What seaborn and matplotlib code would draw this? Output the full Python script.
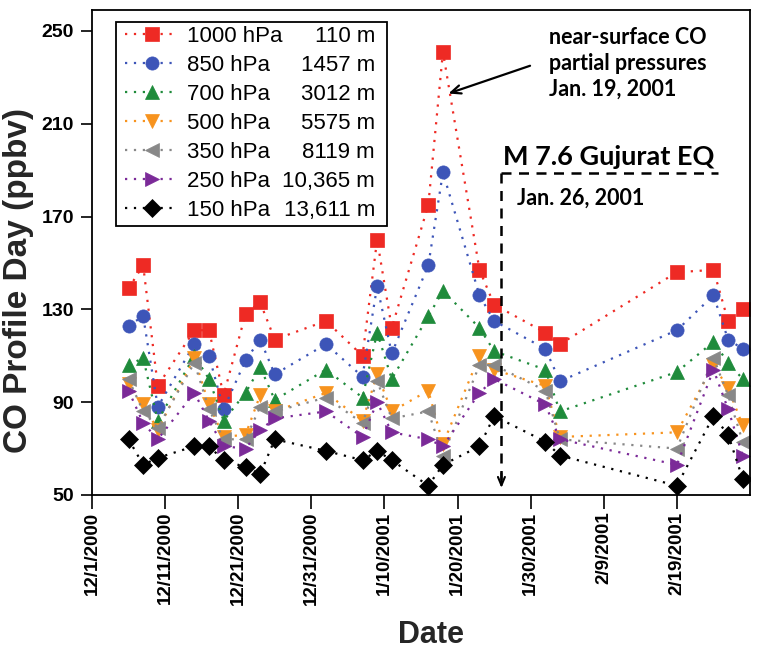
import matplotlib
matplotlib.use("Agg")
import matplotlib.pyplot as plt
import matplotlib.dates as mdates
from matplotlib.patches import Rectangle
import seaborn as sns
import pandas as pd

# sampling days (profiles)
dates = ["2000-12-06", "2000-12-08", "2000-12-10", "2000-12-15", "2000-12-17",
         "2000-12-19", "2000-12-22", "2000-12-24", "2000-12-26", "2001-01-02",
         "2001-01-07", "2001-01-09", "2001-01-11", "2001-01-16", "2001-01-18",
         "2001-01-23", "2001-01-25", "2001-02-01", "2001-02-03", "2001-02-19",
         "2001-02-24", "2001-02-26", "2001-02-28"]

co_1000 = [139, 149, 97, 121, 121, 93, 128, 133, 117, 125, 110, 160, 122, 175, 241, 147, 132, 120, 115, 146, 147, 125, 130]
co_850 = [123, 127, 88, 115, 110, 87, 108, 117, 102, 115, 101, 140, 111, 149, 189, 136, 125, 113, 99, 121, 136, 117, 113]
co_700 = [106, 109, 82, 110, 100, 82, 94, 105, 91, 104, 92, 120, 100, 127, 138, 122, 112, 104, 86, 103, 116, 107, 100]
co_500 = [98, 89, 78, 109, 89, 75, 76, 93, 86, 94, 82, 102, 86, 95, 72, 110, 104, 97, 75, 77, 106, 96, 80]
co_350 = [100, 86, 79, 107, 87, 74, 74, 88, 86, 92, 81, 99, 83, 86, 67, 106, 106, 95, 74, 70, 109, 93, 73]
co_250 = [95, 81, 74, 94, 82, 71, 70, 78, 83, 86, 75, 90, 77, 74, 71, 94, 100, 89, 74, 63, 104, 87, 67]
co_150 = [74, 63, 66, 71, 71, 65, 62, 59, 74, 69, 65, 69, 65, 54, 63, 71, 84, 73, 67, 54, 84, 76, 57]

levels = ["1000 hPa", "850 hPa", "700 hPa", "500 hPa", "350 hPa", "250 hPa", "150 hPa"]
heights = ["110 m", "1457 m", "3012 m", "5575 m", "8119 m", "10,365 m", "13,611 m"]

tick_dates = ["2000-12-01", "2000-12-11", "2000-12-21", "2000-12-31", "2001-01-10",
              "2001-01-20", "2001-01-30", "2001-02-09", "2001-02-19"]
tick_labels = ["12/1/2000", "12/11/2000", "12/21/2000", "12/31/2000", "1/10/2001",
               "1/20/2001", "1/30/2001", "2/9/2001", "2/19/2001"]
y_ticks = [50, 90, 130, 170, 210, 250]

colors = ["#ee2a24", "#3d55b8", "#1f8b3b", "#f7931e", "#888888", "#7b2a98", "#000000"]
markers = ["s", "o", "^", "v", "<", ">", "D"]

sns.set_style("ticks")
plt.rcParams['font.family'] = ['Liberation Sans', 'DejaVu Sans']
plt.rcParams['axes.edgecolor'] = 'black'
plt.rcParams['text.color'] = 'black'
plt.rcParams['xtick.color'] = 'black'
plt.rcParams['ytick.color'] = 'black'

fig = plt.figure(figsize=(7.71, 6.57), dpi=100)
ax = fig.add_axes([0.1193, 0.2466, 0.8535, 0.7382])

x = pd.to_datetime(dates)
series = [co_1000, co_850, co_700, co_500, co_350, co_250, co_150]
for lev, vals, c, m in zip(levels, series, colors, markers):
    sns.lineplot(x=x, y=vals, ax=ax, color=c, marker=m, markersize=9.5,
                 markeredgecolor=c, markeredgewidth=0.5,
                 linestyle=(0, (1, 3)), linewidth=1.6, label=lev)

ax.set_xlim(pd.Timestamp("2000-12-01"), pd.Timestamp("2001-03-01"))
ax.set_ylim(50, 259)
ax.set_xticks(pd.to_datetime(tick_dates))
ax.set_xticklabels(tick_labels, rotation=90, fontsize=13.5, fontweight='bold')
ax.set_yticks(y_ticks)
ax.set_yticklabels([str(v) for v in y_ticks], fontsize=14, fontweight='bold')
ax.tick_params(axis='x', direction='out', length=10, width=1.2, pad=2)
ax.tick_params(axis='y', direction='out', length=8, width=1.2, pad=5)
for sp in ax.spines.values():
    sp.set_linewidth(1.3)

ax.set_xlabel("Date", fontsize=22, fontweight='bold')
ax.xaxis.set_label_coords(0.515, -0.258)
ax.set_ylabel("CO Profile Day (ppbv)", fontsize=24, fontweight='bold')
ax.yaxis.set_label_coords(-0.088, 0.443)

# legend with a hand-drawn frame so the altitudes fit inside
handles, labels = ax.get_legend_handles_labels()
leg = ax.legend(handles, labels, loc='upper left', bbox_to_anchor=(0.05, 0.968),
                frameon=False, fontsize=16, handlelength=2.4, handletextpad=0.4,
                labelspacing=0.36, borderaxespad=0, borderpad=0)
ax.add_patch(Rectangle((0.0365, 0.5546), 0.4118, 0.4204, transform=ax.transAxes,
                       facecolor='white', edgecolor='black', lw=1.3, zorder=4.5))

fig.canvas.draw()
for t, h in zip(leg.get_texts(), heights):
    bb = t.get_window_extent()
    yc = ax.transAxes.inverted().transform((0, (bb.y0 + bb.y1) / 2))[1]
    ax.text(0.430, yc, h, ha='right', va='center', fontsize=16,
            transform=ax.transAxes, zorder=6)

# annotations
note_font = ['Lato', 'DejaVu Sans']
ax.text(0.694, 0.965, "near-surface CO\npartial pressures\nJan. 19, 2001",
        transform=ax.transAxes, ha='left', va='top', fontsize=15.5,
        fontweight='bold', family=note_font, linespacing=1.3)
peak_x = mdates.date2num(pd.Timestamp("2001-01-18 18:00"))
ax.annotate("", xy=(peak_x, 223), xycoords='data',
            xytext=(0.6657, 0.885), textcoords='axes fraction',
            arrowprops=dict(arrowstyle='->,head_length=0.7,head_width=0.3',
                            lw=1.6, color='black', shrinkA=0, shrinkB=0))

eq_x = mdates.date2num(pd.Timestamp("2001-01-26"))
ax.text(0.625, 0.680, "M 7.6 Gujurat EQ", transform=ax.transAxes, ha='left',
        va='baseline', fontsize=19.5, fontweight='bold', family=note_font)
ax.text(0.646, 0.612, "Jan. 26, 2001", transform=ax.transAxes, ha='left',
        va='center', fontsize=15.5, fontweight='bold', family=note_font)
xt = ax.get_xaxis_transform()
ax.plot([eq_x, eq_x], [0.6645, 0.03], transform=xt, color='black', lw=1.8,
        linestyle=(0, (4, 3)), clip_on=False)
ax.plot([0.6216, 0.9514], [0.6645, 0.6645], transform=ax.transAxes,
        color='black', lw=1.8, linestyle=(0, (4, 3)))
ax.annotate("", xy=(eq_x, 0.0144), xycoords=xt, xytext=(eq_x, 0.045), textcoords=xt,
            arrowprops=dict(arrowstyle='->,head_length=0.6,head_width=0.25',
                            lw=1.5, color='black', shrinkA=0, shrinkB=0))

fig.savefig("out.png", dpi=100)
